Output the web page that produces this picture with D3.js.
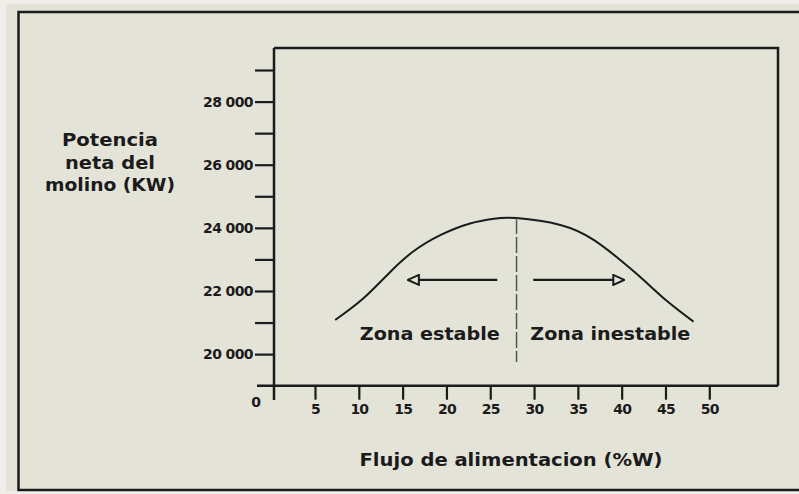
<!DOCTYPE html>
<html><head><meta charset="utf-8">
<script src="https://cdn.jsdelivr.net/npm/d3@7"></script>
<style>
html,body{margin:0;padding:0;background:#efeee8;}
svg{display:block;}
</style></head><body>
<svg id="c" width="799" height="494"></svg>
<script>
// ---- data ----
const flujo    = [7.3, 10.5, 13.5, 16.2, 19.3, 22.7, 25.4, 28, 33, 36.8, 39.8, 42.5, 45.1, 48.2];
const potencia = [21080, 21760, 22580, 23250, 23770, 24140, 24290, 24310, 24090, 23620, 22990, 22350, 21700, 21030];
const xTicks = [5, 10, 15, 20, 25, 30, 35, 40, 45, 50];
const yTicks = [20000, 21000, 22000, 23000, 24000, 25000, 26000, 27000, 28000, 29000];
const yLabelTicks = [20000, 22000, 24000, 26000, 28000];
const yTitle = ["Potencia", "neta del", "molino (KW)"];
const xTitle = "Flujo de alimentacion (%W)";
const zoneNames = ["Zona estable", "Zona inestable"];
const zoneX = [18.1, 38.7];
const zoneY = 20450;
const peakX = 28, peakBottom = 19750;
const arrowY = 22350;
const arrowLeft = [25.8, 15.6];
const arrowRight = [29.9, 40.3];
const originLabel = "0";

// ---- layout ----
const svg = d3.select("#c");
const ink = "#1b1b1b", bg = "#e4e3d8";
const x = d3.scaleLinear().domain([0, 50]).range([271.2, 709.3]);
const y = d3.scaleLinear().domain([19000, 29000]).range([385.7, 70]);
const axX = 274, frameTop = 48, frameRight = 778;
const FONT = "'DejaVu Sans', sans-serif";

svg.append("rect").attr("x", 6).attr("y", 4).attr("width", 800).attr("height", 487).attr("fill", bg);
svg.append("rect").attr("x", 18.5).attr("y", 12).attr("width", 800).attr("height", 478)
  .attr("fill", "none").attr("stroke", ink).attr("stroke-width", 2.5);

const defs = svg.append("defs");
defs.append("marker").attr("id", "arr").attr("viewBox", "0 -6 13 12")
  .attr("refX", 12).attr("refY", 0).attr("markerWidth", 13).attr("markerHeight", 12)
  .attr("markerUnits", "userSpaceOnUse").attr("orient", "auto")
  .append("path").attr("d", "M1,-5 L12,0 L1,5 Z")
  .attr("fill", bg).attr("stroke", ink).attr("stroke-width", 2);

// frame top & right
svg.append("path")
  .attr("d", `M${axX},${frameTop} H${frameRight} V${y(19000)}`)
  .attr("fill", "none").attr("stroke", ink).attr("stroke-width", 2.5);
// y axis line
svg.append("line").attr("x1", axX).attr("x2", axX).attr("y1", frameTop).attr("y2", 400)
  .attr("stroke", ink).attr("stroke-width", 2.5);
// x axis line
svg.append("line").attr("x1", 257).attr("x2", frameRight).attr("y1", y(19000)).attr("y2", y(19000))
  .attr("stroke", ink).attr("stroke-width", 2.5);

// y axis ticks
const fmt = v => d3.format(",")(v).replace(",", " ");
const gy = svg.append("g").attr("transform", `translate(${axX},0)`)
  .call(d3.axisLeft(y).tickValues(yTicks).tickSize(19).tickPadding(2)
    .tickFormat(v => yLabelTicks.includes(v) ? fmt(v) : ""));
gy.select(".domain").remove();
gy.selectAll(".tick line").attr("stroke", ink).attr("stroke-width", 2.2);
gy.selectAll(".tick text").attr("fill", ink).attr("font-family", FONT)
  .attr("font-size", 14).attr("font-weight", "bold").attr("letter-spacing", -0.6);

// x axis ticks
const gx = svg.append("g").attr("transform", `translate(0,${y(19000)})`)
  .call(d3.axisBottom(x).tickValues(xTicks).tickSize(14).tickPadding(4));
gx.select(".domain").remove();
gx.selectAll(".tick line").attr("stroke", ink).attr("stroke-width", 2.2);
gx.selectAll(".tick text").attr("fill", ink).attr("font-family", FONT)
  .attr("font-size", 14).attr("font-weight", "bold").attr("letter-spacing", -0.8);

svg.append("text").attr("x", x(0) - 15).attr("y", y(19000) + 21)
  .attr("text-anchor", "middle").attr("fill", ink).attr("font-family", FONT)
  .attr("font-size", 14).attr("font-weight", "bold").text(originLabel);

// curve
const pts = flujo.map((f, i) => [f, potencia[i]]);
svg.append("path").datum(pts)
  .attr("d", d3.line().x(d => x(d[0])).y(d => y(d[1])).curve(d3.curveNatural))
  .attr("fill", "none").attr("stroke", ink).attr("stroke-width", 2);

// dashed divider
svg.append("line").attr("x1", x(peakX)).attr("x2", x(peakX))
  .attr("y1", y(24310)).attr("y2", y(peakBottom))
  .attr("stroke", "#555").attr("stroke-width", 1.5).attr("stroke-dasharray", "16,3");

// arrows
[arrowLeft, arrowRight].forEach(a => {
  svg.append("line").attr("x1", x(a[0])).attr("x2", x(a[1]))
    .attr("y1", y(arrowY)).attr("y2", y(arrowY))
    .attr("stroke", ink).attr("stroke-width", 2.2).attr("marker-end", "url(#arr)");
});

// zone labels
const zoneW = [140, 160];
zoneNames.forEach((t, i) => {
  svg.append("text").attr("x", x(zoneX[i])).attr("y", y(zoneY))
    .attr("text-anchor", "middle").attr("fill", ink).attr("font-family", FONT)
    .attr("font-size", 17).attr("font-weight", "bold")
    .attr("textLength", zoneW[i]).attr("lengthAdjust", "spacingAndGlyphs").text(t);
});

// y title
const yTitleW = [96, 90, 130];
svg.append("text").attr("text-anchor", "middle").attr("fill", ink).attr("font-family", FONT)
  .attr("font-size", 17).attr("font-weight", "bold")
  .selectAll("tspan").data(yTitle).join("tspan")
  .attr("x", 110).attr("y", (d, i) => 146 + i * 22.5)
  .attr("textLength", (d, i) => yTitleW[i]).attr("lengthAdjust", "spacingAndGlyphs")
  .text(d => d);

// x title
svg.append("text").attr("x", 511).attr("y", 466).attr("text-anchor", "middle")
  .attr("fill", ink).attr("font-family", FONT).attr("font-size", 18).attr("font-weight", "bold")
  .attr("textLength", 303).attr("lengthAdjust", "spacingAndGlyphs")
  .text(xTitle);
</script>
</body></html>
